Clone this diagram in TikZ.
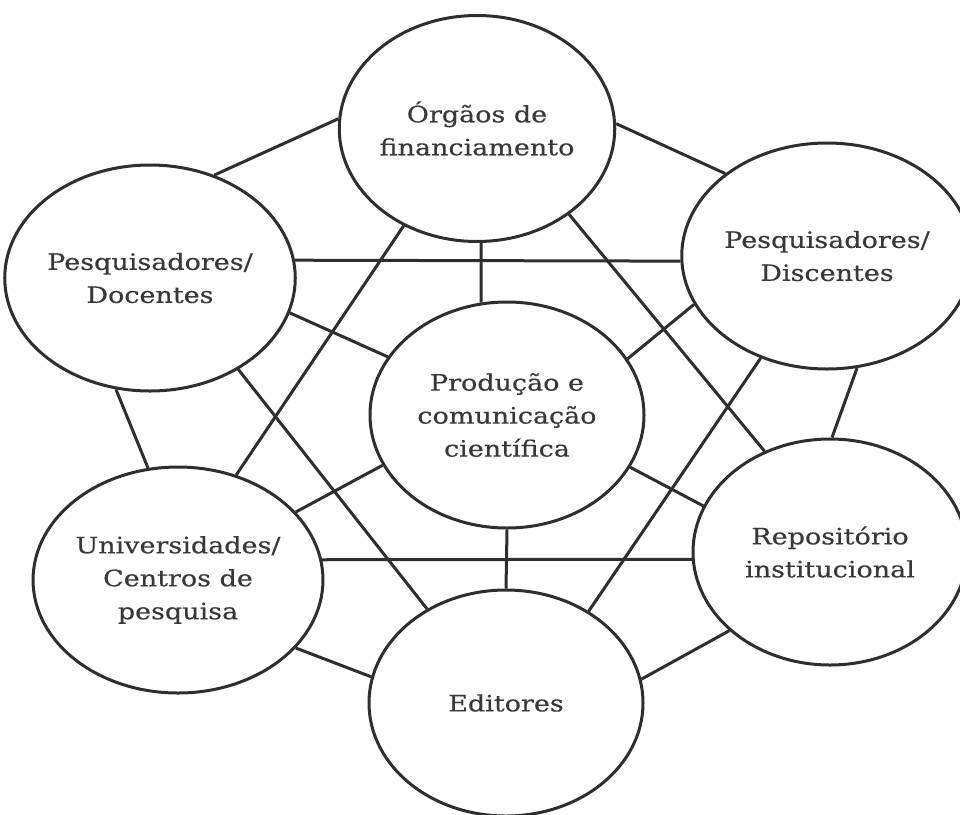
\documentclass[tikz,border=0pt]{standalone}
\usepackage{fontspec}
\setmainfont{DejaVu Serif}[FakeStretch=1.2,FakeBold=0.4]
\usetikzlibrary{shapes.geometric}
\definecolor{linec}{HTML}{2E2E2E}
\definecolor{textc}{HTML}{383838}
\tikzset{
  ent/.style={ellipse, draw=linec, line width=3pt, fill=white,
    minimum width=274pt, minimum height=226pt, inner sep=0pt,
    align=center, text=textc, font=\fontsize{22.5}{33}\selectfont},
  link/.style={draw=linec, line width=3pt}
}
\begin{document}
\begin{tikzpicture}[x=1pt,y=-1pt]
\useasboundingbox (0,0) rectangle (960,814);
\node[ent] (T) at (477,128.5) {Órgãos de\\financiamento};
\node[ent] (L) at (150,278) {Pesquisadores/\\Docentes};
\node[ent] (R) at (827,256) {Pesquisadores/\\Discentes};
\node[ent] (C) at (507,415) {Produção e\\comunicação\\científica};
\node[ent] (U) at (178,580) {Universidades/\\Centros de\\pesquisa};
\node[ent] (P) at (830,552) {Repositório\\institucional};
\node[ent] (E) at (506,703) {Editores};
% connectors
\draw[link] (L.58) -- (T.176);
\draw[link] (T.2) -- (R.141);
\draw[link] (T.272) -- (C.103);
\draw[link] (T.233) -- (U.61);
\draw[link] (T.317) -- (P.123.6);
\draw[link] (L.7.1) -- (R.182.1);
\draw[link] (L.-14.9) -- (C.154.4);
\draw[link] (L.253.8) -- (U.105.6);
\draw[link] (L.-46) -- (E.130);
\draw[link] (R.200.8) -- (C.25.8);
\draw[link] (R.-75.1) -- (P.89);
\draw[link] (R.237.2) -- (E.48.6);
\draw[link] (C.202.2) -- (U.30.4);
\draw[link] (C.-23.7) -- (P.160.3);
\draw[link] (C.270) -- (E.90);
\draw[link] (U.8.3) -- (P.183.4);
\draw[link] (U.-30.6) -- (E.169.5);
\draw[link] (E.10.1) -- (P.218.9);
\end{tikzpicture}
\end{document}
